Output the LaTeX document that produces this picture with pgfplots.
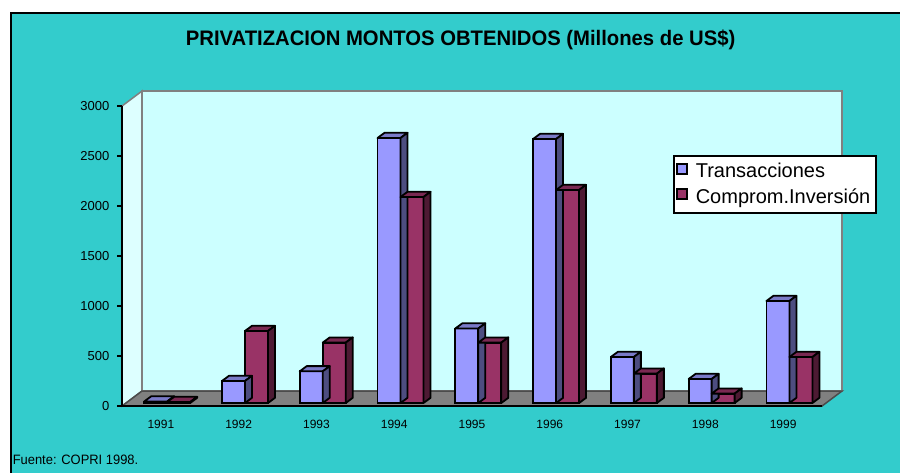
\documentclass[border=0pt]{standalone}
\usepackage{pgfplots}
\usepackage{pgfplotstable}
\pgfplotsset{compat=1.18}
\usepackage{fontspec}
\setmainfont{Liberation Sans}
\definecolor{bgteal}{HTML}{33CCCC}
\definecolor{wallc}{HTML}{CCFFFF}
\definecolor{lwallc}{HTML}{DDFFFF}
\definecolor{floorc}{HTML}{808080}
\definecolor{tfront}{HTML}{9999FF}
\definecolor{ttop}{HTML}{7A7AC8}
\definecolor{tside}{HTML}{4D4D80}
\definecolor{cfront}{HTML}{993366}
\definecolor{ctop}{HTML}{7A2952}
\definecolor{cside}{HTML}{4D1A33}
\pgfdeclareplotmark{empty3d}{}
% year index, Transacciones, Comprom.Inversion (Millones de US$)
\pgfplotstableread{
x    t     c
0.5  15    10
1.5  220   720
2.5  317   604
3.5  2650  2060
4.5  745   604
5.5  2640  2130
6.5  460   294
7.5  240   94
8.5  1020  460
}\datatab
% depth of the 3D bars
\def\ddx{3.5pt}
\def\ddy{2.6pt}
\pgfplotsset{
  box3d/.style n args={4}{% #1 column, #2 shift(left edge), #3 width, #4 colour prefix
    scatter, only marks, mark=empty3d, forget plot,
    visualization depends on={\thisrow{#1} \as \barval},
    scatter/@pre marker code/.code={%
      \pgfmathsetmacro\hh{\barval*0.05}%
      \begin{scope}[line width=0.9pt, line join=round]
        \filldraw[fill=#4top, draw=black] (#2,0pt) -- ++(#3,0pt) -- ++(\ddx,\ddy) -- ++(-#3,0pt) -- cycle;
        \filldraw[fill=#4side, draw=black] (#2+#3,0pt) -- ++(\ddx,\ddy) -- ++(0pt,-\hh pt) -- ++(-\ddx,-\ddy) -- cycle;
      \end{scope}
      \begin{scope}},
    scatter/@post marker code/.code={\end{scope}},
  },
}
\begin{document}
\begin{tikzpicture}
\useasboundingbox (0,0) rectangle (450pt,-236pt);
\fill[white] (0,0) rectangle (450pt,-236pt);
\filldraw[fill=bgteal, draw=black, line width=1pt] (5.3pt,-6.4pt) rectangle (460pt,-250pt);
\node[font=\fontsize{10.5}{12}\selectfont\bfseries, inner sep=0pt] at (230.3pt,-20pt)
  {\scalebox{0.965}[1]{PRIVATIZACION MONTOS OBTENIDOS (Millones de US\$)}};
\node[font=\fontsize{6.8}{8}\selectfont, inner sep=0pt, anchor=west] at (6.2pt,-229.8pt)
  {\scalebox{0.95}[1]{Fuente: COPRI 1998.}};
\begin{axis}[
  at={(61pt,-203pt)}, anchor=south west,
  scale only axis, width=350pt, height=150pt,
  xmin=0, xmax=9, ymin=0, ymax=3000,
  clip=false, axis on top,
  axis x line*=bottom, axis y line*=left,
  axis line style={line width=1pt, black, -},
  /pgf/number format/assume math mode=true,
  /pgf/number format/1000 sep={},
  tick align=outside,
  ytick={0,500,...,3000},
  major tick length=2.5pt,
  ytick style={line width=1pt, black},
  xtick={0.5,1.5,...,8.5},
  xticklabels={1991,1992,1993,1994,1995,1996,1997,1998,1999},
  x tick style={draw=none},
  minor xtick={0,1,...,9},
  minor x tick style={line width=1pt, black},
  minor tick length=2pt,
  yticklabel style={font=\fontsize{6.5}{8}\selectfont, xshift=-0.3pt},
  xticklabel style={font=\fontsize{6}{8}\selectfont, yshift=-1.2pt},
  legend style={at={(0.787,0.837)}, anchor=north west, draw=black, line width=1pt,
    fill=white, font=\fontsize{10}{12}\selectfont, inner xsep=1pt, inner ysep=1.5pt,
    nodes={inner xsep=2pt}, row sep=0pt, legend cell align=left},
  legend image code/.code={\path[draw=none, fill=none] (0pt,0pt) -- (7.5pt,0pt);
    \filldraw[#1, draw=black, line width=0.9pt] (0pt,-2.5pt) rectangle (5pt,2.5pt);},
]
% walls and floor
\filldraw[fill=lwallc, draw=floorc, line width=0.75pt]
  (rel axis cs:0,0) -- (rel axis cs:0,1) -- ([xshift=10pt,yshift=7.5pt]rel axis cs:0,1) -- ([xshift=10pt,yshift=7.5pt]rel axis cs:0,0) -- cycle;
\filldraw[fill=wallc, draw=floorc, line width=0.75pt]
  ([xshift=10pt,yshift=7.5pt]rel axis cs:0,0) rectangle ([xshift=10pt,yshift=7.5pt]rel axis cs:1,1);
\filldraw[fill=floorc, draw=black!70, line width=0.75pt]
  (rel axis cs:0,0) -- (rel axis cs:1,0) -- ([xshift=10pt,yshift=7.5pt]rel axis cs:1,0) -- ([xshift=10pt,yshift=7.5pt]rel axis cs:0,0) -- cycle;
% Transacciones
\addplot[ybar, bar width=11.5pt, bar shift=-2.6pt, fill=tfront, draw=black, line width=0.9pt, yshift=1.5pt]
  table[x=x, y=t] {\datatab};
\addlegendentry{Transacciones}
\addplot[box3d={t}{-8.35pt}{11.5pt}{t}, yshift=1.5pt] table[x=x, y=t] {\datatab};
% Comprom. Inversion
\addplot[ybar, bar width=11.5pt, bar shift=8.9pt, fill=cfront, draw=black, line width=0.9pt, yshift=1.5pt]
  table[x=x, y=c] {\datatab};
\addlegendentry{Comprom.Inversión}
\addplot[box3d={c}{3.15pt}{11.5pt}{c}, yshift=1.5pt] table[x=x, y=c] {\datatab};
\end{axis}
\end{tikzpicture}
\end{document}
